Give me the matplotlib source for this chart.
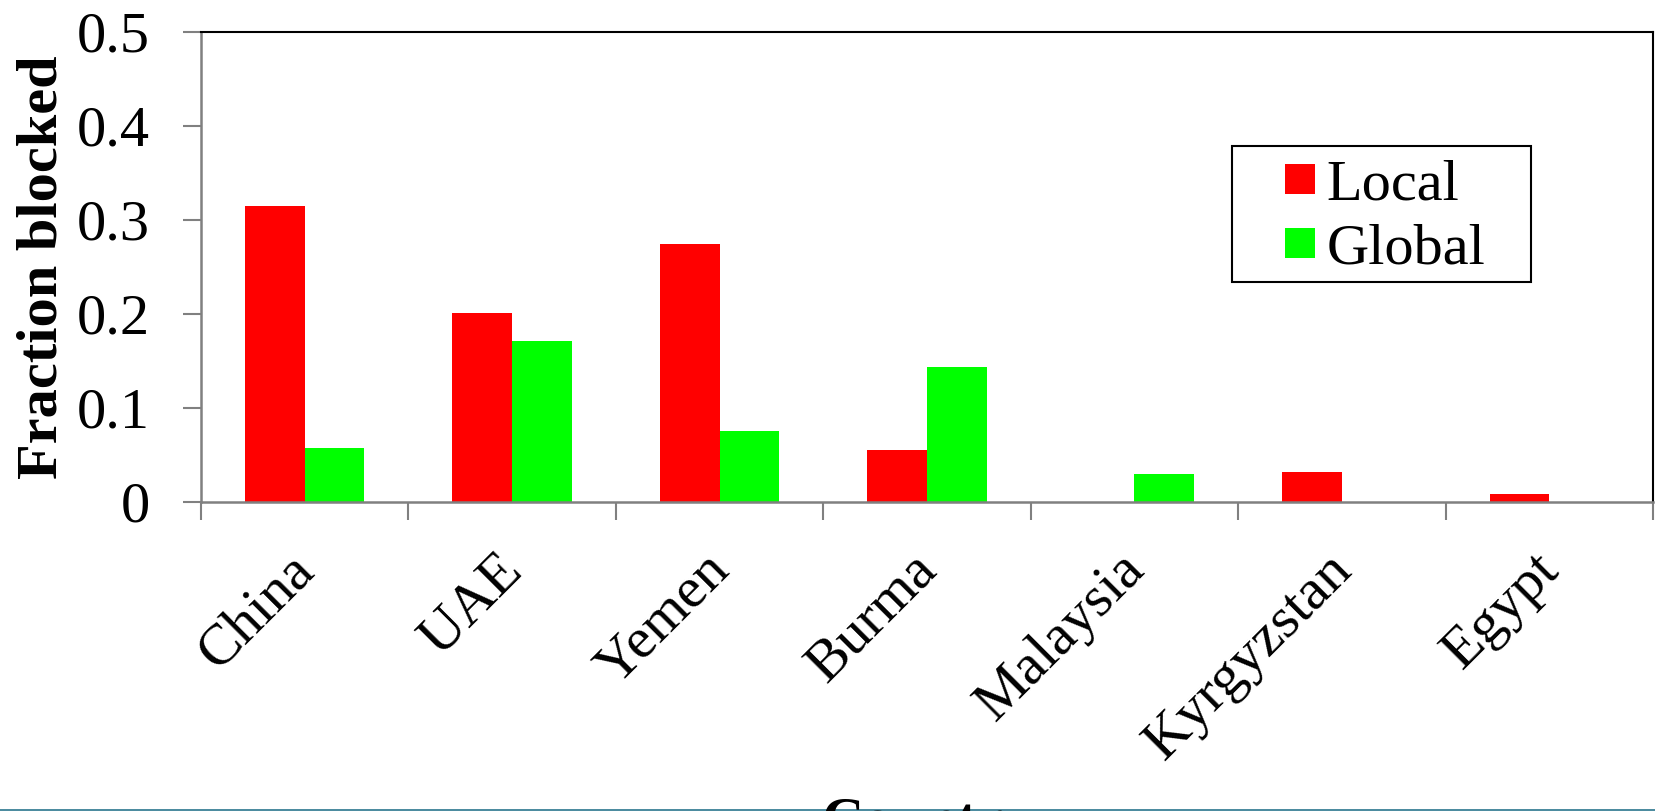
import matplotlib
matplotlib.use("Agg")
import matplotlib.pyplot as plt
from matplotlib.patches import Rectangle
import numpy as np

countries = ["China", "UAE", "Yemen", "Burma", "Malaysia", "Kyrgyzstan", "Egypt"]
local_vals = [0.315, 0.201, 0.274, 0.055, 0.0, 0.032, 0.009]
global_vals = [0.057, 0.171, 0.075, 0.143, 0.030, 0.0, 0.0]
y_ticks = [0, 0.1, 0.2, 0.3, 0.4, 0.5]
y_tick_labels = ["0", "0.1", "0.2", "0.3", "0.4", "0.5"]

plt.rcParams["font.family"] = ["Liberation Serif", "DejaVu Serif"]
W, H = 1656, 811
FS = 42
fig = plt.figure(figsize=(W / 100, H / 100), dpi=100)
ax = fig.add_axes([201 / W, 1 - 502 / H, (1653 - 201) / W, (502 - 31.6) / H])

x = np.arange(len(countries))
bw = 0.288
ax.bar(x - bw / 2, local_vals, width=bw, color="#FF0000", label="Local", linewidth=0)
ax.bar(x + bw / 2, global_vals, width=bw, color="#00FF00", label="Global", linewidth=0)

ax.set_xlim(-0.5, len(countries) - 0.5)
ax.set_ylim(0, 0.5)
ax.set_yticks(y_ticks)
ax.set_yticklabels(y_tick_labels, fontsize=FS)
ax.set_xticks(np.arange(len(countries) + 1) - 0.5)
ax.set_xticklabels([])
ax.tick_params(axis="y", direction="out", length=13, width=1.5, color="#808080", pad=24)
ax.tick_params(axis="x", direction="out", length=13, width=1.5, color="#808080")

# rotated category names under each group
for i, name in enumerate(countries):
    ax.text(i - 0.08, -0.044, name, rotation=45, rotation_mode="anchor",
            ha="right", va="top", fontsize=FS, transform=ax.transData,
            clip_on=False)

for side in ("left", "bottom"):
    ax.spines[side].set_color("#808080")
    ax.spines[side].set_linewidth(1.8)
for side in ("top", "right"):
    ax.spines[side].set_color("black")
    ax.spines[side].set_linewidth(1.5)

ax.set_ylabel("Fraction blocked", fontsize=FS, fontweight="bold", labelpad=6)

# legend entries without frame; the box is drawn separately for wider side padding
leg = ax.legend(loc="upper left", bbox_to_anchor=(1285 / W, 1 - 160 / H),
                bbox_transform=fig.transFigure, fontsize=FS, frameon=False,
                handlelength=0.515, handleheight=0.415, handletextpad=0.2,
                labelspacing=0.2, borderpad=0, borderaxespad=0)
fig.add_artist(Rectangle((1231.7 / W, 1 - 281.7 / H), (1531 - 1231.7) / W,
                         (281.7 - 146) / H, transform=fig.transFigure,
                         fill=False, edgecolor="black", linewidth=1.5))

fig.text(927 / W, 1 - 797 / H, "Country", ha="center", va="top",
         fontsize=FS, fontweight="bold")

fig.add_artist(Rectangle((0, 0), 1, 2.2 / H, transform=fig.transFigure,
                         color="#4d8ca0", linewidth=0))

fig.savefig("out.png", dpi=100)
